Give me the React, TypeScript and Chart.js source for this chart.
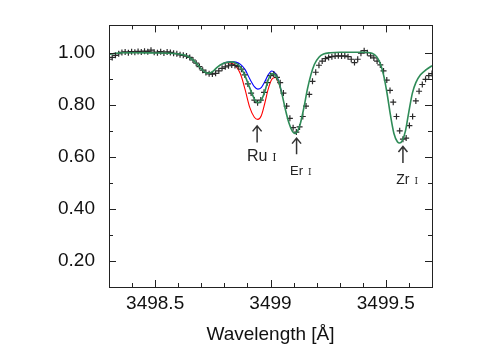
import React, { useEffect, useRef } from "react";
import { Chart, registerables } from "chart.js";
Chart.register(...registerables);

// Observed spectrum: uniform wavelength grid
const obsStart = 3498.3;
const obsStep = 0.014;
const obsFlux = [
  0.975, 0.982, 0.99, 0.996, 1.001, 1.003, 1.0, 1.004, 1.002, 1.005,
  1.003, 1.006, 1.004, 1.01, 1.002, 1.0, 1.004, 0.999, 1.003, 1.001,
  0.998, 0.996, 0.992, 0.99, 0.987, 0.982, 0.972, 0.96, 0.947, 0.933,
  0.924, 0.919, 0.918, 0.921, 0.93, 0.94, 0.946, 0.95, 0.953, 0.951,
  0.947, 0.937, 0.915, 0.88, 0.845, 0.818, 0.808, 0.818, 0.848, 0.885,
  0.912, 0.918, 0.905, 0.885, 0.845, 0.795, 0.748, 0.712, 0.695, 0.715,
  0.755, 0.795, 0.84, 0.89, 0.925, 0.952, 0.968, 0.977, 0.982, 0.985,
  0.987, 0.988, 0.987, 0.988, 0.985, 0.975, 0.962, 0.975, 0.998, 1.008,
  1.0, 0.988, 0.98, 0.968, 0.953, 0.93, 0.895, 0.855, 0.81, 0.755,
  0.7, 0.668, 0.672, 0.72, 0.755, 0.815, 0.852, 0.878, 0.898, 0.912,
  0.92,
];

// Best-fit synthesis (green)
const modelWl = [
  3498.3, 3498.33, 3498.36, 3498.42, 3498.5, 3498.56, 3498.6, 3498.63, 3498.66, 3498.68,
  3498.7, 3498.72, 3498.735, 3498.75, 3498.77, 3498.79, 3498.81, 3498.83, 3498.85, 3498.87,
  3498.89, 3498.91, 3498.93, 3498.945, 3498.96, 3498.975, 3498.99, 3499.005, 3499.02, 3499.035,
  3499.05, 3499.065, 3499.08, 3499.095, 3499.105, 3499.115, 3499.13, 3499.145, 3499.16, 3499.175,
  3499.19, 3499.21, 3499.23, 3499.26, 3499.3, 3499.4, 3499.44, 3499.46, 3499.475, 3499.49,
  3499.505, 3499.52, 3499.535, 3499.55, 3499.56, 3499.57, 3499.585, 3499.6, 3499.615, 3499.63,
  3499.65, 3499.675, 3499.7,
];
const modelFlux = [
  0.993, 0.998, 1.0, 1.0, 0.999, 0.998, 0.995, 0.99, 0.975, 0.958,
  0.938, 0.923, 0.921, 0.928, 0.945, 0.957, 0.963, 0.965, 0.96, 0.945,
  0.91, 0.865, 0.823, 0.808, 0.818, 0.85, 0.895, 0.92, 0.915, 0.89,
  0.84, 0.78, 0.73, 0.698, 0.69, 0.695, 0.73, 0.79, 0.86, 0.915,
  0.955, 0.983, 0.995, 1.0, 1.002, 1.002, 0.998, 0.985, 0.96, 0.915,
  0.845, 0.76, 0.69, 0.658, 0.653, 0.66, 0.7, 0.775, 0.845, 0.885,
  0.915, 0.935, 0.95,
];

// Ru I region: lower (blue) and higher (red) abundance
const ruWl = [3498.79, 3498.81, 3498.83, 3498.85, 3498.87, 3498.89, 3498.91, 3498.93, 3498.945, 3498.96, 3498.975, 3498.99, 3499.005, 3499.02, 3499.035, 3499.05];
const ruFluxLow = [0.957, 0.963, 0.966, 0.964, 0.955, 0.935, 0.9, 0.87, 0.86, 0.866, 0.888, 0.915, 0.93, 0.922, 0.893, 0.84];
const ruFluxHigh = [0.957, 0.962, 0.96, 0.948, 0.918, 0.858, 0.79, 0.752, 0.744, 0.758, 0.805, 0.86, 0.897, 0.905, 0.885, 0.84];

const xTicks = [3498.5, 3499, 3499.5];
const xMinorTicks = [3498.4, 3498.6, 3498.7, 3498.8, 3498.9, 3499.1, 3499.2, 3499.3, 3499.4, 3499.6];
const yTicks = [0.2, 0.4, 0.6, 0.8, 1.0];
const yMinorTicks = [0.3, 0.5, 0.7, 0.9];

const lineIds = [
  { el: "Ru", ion: "I", wl: 3498.942, tip: 0.719, tail: 0.655, label: 0.583, size: 16, ionSize: 11 },
  { el: "Er", ion: "I", wl: 3499.113, tip: 0.672, tail: 0.61, label: 0.532, size: 13, ionSize: 9 },
  { el: "Zr", ion: "I", wl: 3499.574, tip: 0.64, tail: 0.576, label: 0.494, size: 14, ionSize: 9 },
];

const FONT = "'Liberation Sans', Arial, Helvetica, sans-serif";

const framePlugin = {
  id: "frameTicks",
  afterDraw(chart: any) {
    const { ctx, chartArea: a, scales } = chart;
    const xs = scales.x;
    const ys = scales.y;
    ctx.save();
    ctx.strokeStyle = "#222";
    ctx.lineWidth = 1;
    ctx.beginPath();
    const major = 7;
    const minor = 4;
    const xt = (v: number, len: number) => {
      const px = Math.round(xs.getPixelForValue(v)) + 0.5;
      ctx.moveTo(px, a.bottom);
      ctx.lineTo(px, a.bottom - len);
      ctx.moveTo(px, a.top);
      ctx.lineTo(px, a.top + len);
    };
    const yt = (v: number, len: number) => {
      const py = Math.round(ys.getPixelForValue(v)) + 0.5;
      ctx.moveTo(a.left, py);
      ctx.lineTo(a.left + len, py);
      ctx.moveTo(a.right, py);
      ctx.lineTo(a.right - len, py);
    };
    xTicks.forEach((v) => xt(v, major));
    xMinorTicks.forEach((v) => xt(v, minor));
    yTicks.forEach((v) => yt(v, major));
    yMinorTicks.forEach((v) => yt(v, minor));
    ctx.stroke();
    ctx.strokeRect(Math.round(a.left) + 0.5, Math.round(a.top) + 0.5, Math.round(a.right - a.left), Math.round(a.bottom - a.top));

    // line identifications
    lineIds.forEach((l) => {
      const x = xs.getPixelForValue(l.wl);
      const yTip = ys.getPixelForValue(l.tip);
      const yTail = ys.getPixelForValue(l.tail);
      ctx.strokeStyle = "#333";
      ctx.lineWidth = 1.5;
      ctx.beginPath();
      ctx.moveTo(x, yTail);
      ctx.lineTo(x, yTip);
      ctx.moveTo(x - 4.5, yTip + 5.5);
      ctx.lineTo(x, yTip);
      ctx.lineTo(x + 4.5, yTip + 5.5);
      ctx.stroke();
      const yb = ys.getPixelForValue(l.label);
      ctx.fillStyle = "#222";
      ctx.textBaseline = "alphabetic";
      ctx.font = `${l.size}px ${FONT}`;
      const w = ctx.measureText(l.el).width;
      ctx.textAlign = "left";
      ctx.fillText(l.el, x - w / 2, yb);
      ctx.font = `${l.ionSize}px 'DejaVu Serif', serif`;
      ctx.fillText(l.ion, x + w / 2 + 5, yb);
    });
    ctx.restore();
  },
};

export default function App() {
  const ref = useRef<HTMLCanvasElement | null>(null);
  useEffect(() => {
    if (!ref.current) return;
    const obsData = obsFlux.map((f, i) => ({ x: obsStart + obsStep * i, y: f }));
    const green = modelWl.map((w, i) => ({ x: w, y: modelFlux[i] }));
    const blue = ruWl.map((w, i) => ({ x: w, y: ruFluxLow[i] }));
    const red = ruWl.map((w, i) => ({ x: w, y: ruFluxHigh[i] }));
    const chart = new Chart(ref.current, {
      type: "scatter",
      data: {
        datasets: [
          {
            data: green,
            showLine: true,
            borderColor: "#2e8b57",
            borderWidth: 1.6,
            pointRadius: 0,
            cubicInterpolationMode: "monotone",
            order: 0,
          } as any,
          {
            data: obsData,
            showLine: false,
            pointStyle: "cross",
            pointRadius: 3,
            borderColor: "#2a2a2a",
            backgroundColor: "#2a2a2a",
            borderWidth: 1.2,
            order: 1,
          } as any,
          {
            data: blue,
            showLine: true,
            borderColor: "#0000ff",
            borderWidth: 1.1,
            pointRadius: 0,
            cubicInterpolationMode: "monotone",
            order: 2,
          } as any,
          {
            data: red,
            showLine: true,
            borderColor: "#ff0000",
            borderWidth: 1.1,
            pointRadius: 0,
            cubicInterpolationMode: "monotone",
            order: 3,
          } as any,
        ],
      },
      options: {
        animation: false,
        responsive: true,
        maintainAspectRatio: false,
        layout: { padding: { top: 23, right: 68, left: 0, bottom: 0 } },
        plugins: { legend: { display: false }, tooltip: { enabled: false } },
        scales: {
          x: {
            type: "linear",
            min: 3498.3,
            max: 3499.7,
            grid: { display: false, drawTicks: false },
            border: { display: false },
            afterBuildTicks: (s: any) => {
              s.ticks = xTicks.map((v) => ({ value: v }));
            },
            afterFit: (s: any) => {
              s.height = 63;
            },
            ticks: {
              autoSkip: false,
              maxRotation: 0,
              padding: 5,
              color: "#111",
              font: { size: 19, family: FONT },
              callback: (v: any) => String(v),
            },
            title: {
              display: true,
              text: "Wavelength [Å]",
              color: "#111",
              font: { size: 19, family: FONT },
              padding: { top: 0, bottom: 4 },
            },
          },
          y: {
            type: "linear",
            min: 0.1,
            max: 1.105,
            grid: { display: false, drawTicks: false },
            border: { display: false },
            afterBuildTicks: (s: any) => {
              s.ticks = yTicks.map((v) => ({ value: v }));
            },
            afterFit: (s: any) => {
              s.width = 109;
            },
            ticks: {
              autoSkip: false,
              padding: 14,
              color: "#111",
              font: { size: 19, family: FONT },
              callback: (v: any) => Number(v).toFixed(2),
            },
          },
        },
      } as any,
      plugins: [framePlugin],
    });
    return () => chart.destroy();
  }, []);
  return (
    <div style={{ position: "fixed", left: 0, top: 0, width: 500, height: 350, background: "#fff" }}>
      <canvas ref={ref} />
    </div>
  );
}
